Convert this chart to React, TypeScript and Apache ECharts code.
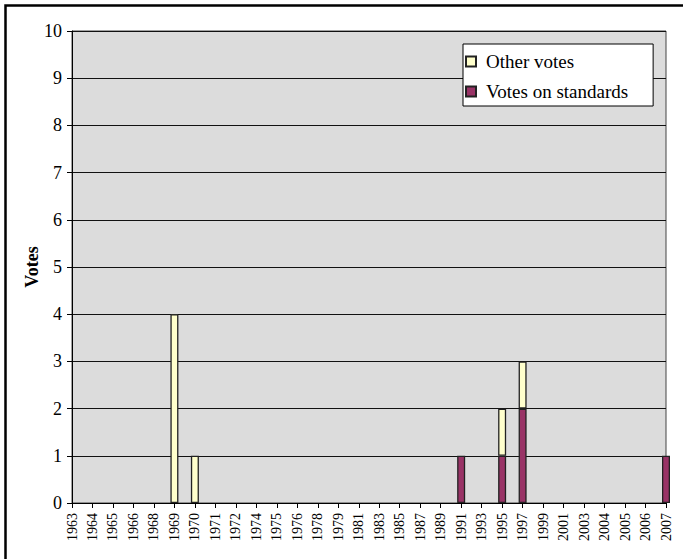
import React, { useEffect, useRef } from "react";
import * as echarts from "echarts";

const years = [
  "1963", "1964", "1965", "1966", "1968", "1969", "1970", "1971", "1972", "1974",
  "1975", "1976", "1978", "1979", "1981", "1983", "1985", "1987", "1989", "1991",
  "1993", "1995", "1997", "1999", "2001", "2003", "2004", "2005", "2006", "2007",
];

const standardsVotes = [
  0, 0, 0, 0, 0, 0, 0, 0, 0, 0,
  0, 0, 0, 0, 0, 0, 0, 0, 0, 1,
  0, 1, 2, 0, 0, 0, 0, 0, 0, 1,
];

const otherVotes = [
  0, 0, 0, 0, 0, 4, 1, 0, 0, 0,
  0, 0, 0, 0, 0, 0, 0, 0, 0, 0,
  0, 1, 1, 0, 0, 0, 0, 0, 0, 0,
];

const FONT = "Liberation Serif";

export default function App() {
  const ref = useRef<HTMLDivElement>(null);
  useEffect(() => {
    if (!ref.current) return;
    const chart = echarts.init(ref.current, null, { renderer: "svg" });
    const toData = (arr: number[]) => arr.map((v) => (v === 0 ? null : v));
    chart.setOption({
      animation: false,
      textStyle: { fontFamily: FONT },
      grid: {
        left: 72,
        top: 31,
        right: 17,
        bottom: 56,
        show: true,
        backgroundColor: "#dcdcdc",
        borderColor: "#444",
        borderWidth: 1,
      },
      legend: {
        data: ["Other votes", "Votes on standards"],
        orient: "vertical",
        left: 463,
        top: 44,
        padding: [8, 25, 5, 2],
        itemGap: 11,
        itemWidth: 10,
        itemHeight: 10,
        icon: "rect",
        backgroundColor: "#ffffff",
        borderColor: "#000",
        borderWidth: 1,
        textStyle: { fontFamily: FONT, fontSize: 19, color: "#000", padding: [0, 0, 0, 5] },
      },
      xAxis: {
        type: "category",
        data: years,
        boundaryGap: false,
        axisLine: { lineStyle: { color: "#000", width: 1 } },
        axisTick: { alignWithLabel: true, length: 5, lineStyle: { color: "#000" }, interval: 0 },
        axisLabel: {
          interval: 0,
          rotate: 90,
          margin: 10,
          fontFamily: FONT,
          fontSize: 14,
          color: "#000",
        },
        splitLine: { show: false },
      },
      yAxis: {
        type: "value",
        min: 0,
        max: 10,
        interval: 1,
        name: "Votes",
        nameLocation: "middle",
        nameRotate: 90,
        nameGap: 31,
        nameMoveOverlap: false,
        nameTextStyle: { fontFamily: FONT, fontSize: 18, fontWeight: "bold", color: "#000" },
        axisLine: { show: true, lineStyle: { color: "#000", width: 1 } },
        axisTick: { show: true, length: 5, lineStyle: { color: "#000" } },
        axisLabel: { margin: 10, fontFamily: FONT, fontSize: 18, color: "#000" },
        splitLine: { show: true, lineStyle: { color: "#111", width: 1 } },
      },
      series: [
        {
          name: "Votes on standards",
          type: "bar",
          stack: "v",
          barWidth: 8,
          data: toData(standardsVotes),
          itemStyle: { color: "#993366", borderColor: "#222", borderWidth: 1.3 },
        },
        {
          name: "Other votes",
          type: "bar",
          stack: "v",
          barWidth: 8,
          data: toData(otherVotes),
          itemStyle: { color: "#ffffcc", borderColor: "#222", borderWidth: 1.3 },
        },
      ],
      graphic: [
        {
          type: "rect",
          silent: true,
          z: -10,
          shape: { x: 5.5, y: 5.5, width: 720, height: 600 },
          style: { fill: "none", stroke: "#000", lineWidth: 2.5 },
        },
      ],
    });
    return () => chart.dispose();
  }, []);
  return <div ref={ref} style={{ width: 683, height: 559, position: "absolute", left: 0, top: 0 }} />;
}
